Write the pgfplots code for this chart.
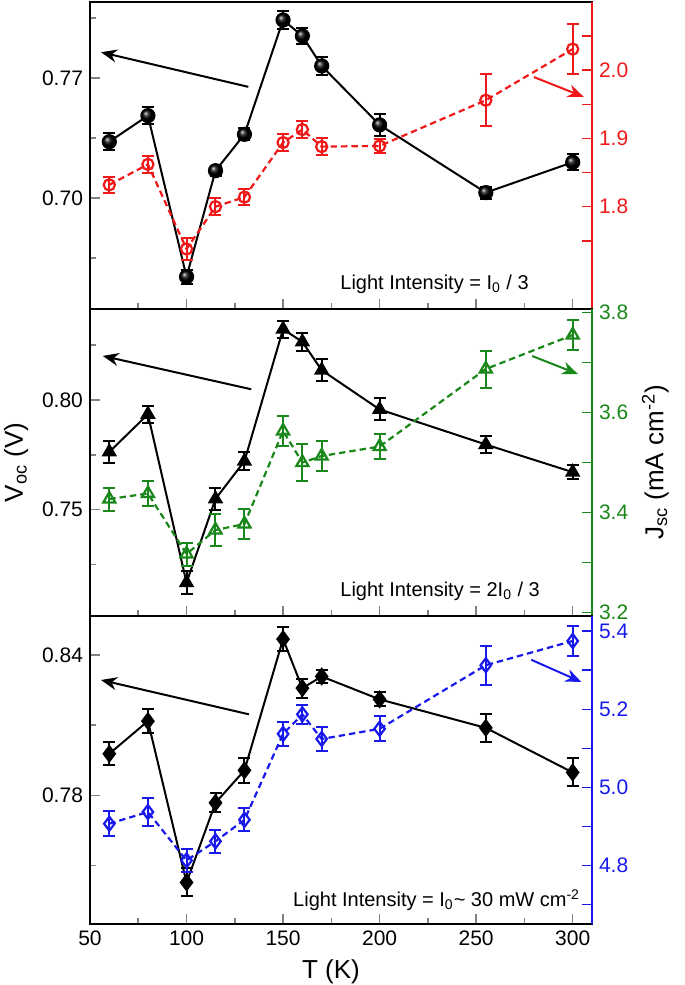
\documentclass[border=0pt]{standalone}
\usepackage{fontspec}
\setmainfont{Liberation Sans}
\usepackage{pgfplots}
\pgfplotsset{compat=1.18}
\usetikzlibrary{arrows.meta}

\definecolor{jred}{RGB}{240,25,25}
\definecolor{jgreen}{RGB}{25,135,25}
\definecolor{jblue}{RGB}{25,25,235}

\tikzset{
  txt/.style={font=\fontsize{10}{12}\selectfont, anchor=base west, inner sep=0pt},
  arr/.style={-{Stealth[length=8pt,width=6.5pt]}, line width=1pt},
}

\pgfplotsset{
  base/.style={
    scale only axis, width=251pt,
    xmin=50, xmax=310,
    tick align=inside,
    major tick length=5pt, minor tick length=3pt,
    axis line style={line width=0.8pt},
    every tick/.append style={line width=0.8pt},
    tick label style={font=\fontsize{10.5}{12}\selectfont},
    label style={font=\fontsize{13}{15}\selectfont},
    /pgf/number format/assume math mode=true,
  },
  lpanel/.style={
    base,
    xtick={50,100,...,300}, minor xtick={75,125,...,275},
    xtick pos=left, ytick pos=left,
    yticklabel style={/pgf/number format/.cd, fixed, fixed zerofill, precision=2},
  },
  rpanel/.style={
    base,
    axis x line=none, axis y line*=right,
    y axis line style={#1, line width=0.8pt},
    every tick/.append style={#1},
    yticklabel style={#1, /pgf/number format/.cd, fixed, fixed zerofill, precision=1},
    minor tick length=5pt,
  },
  ebars/.style={
    error bars/y dir=both, error bars/y explicit,
    error bars/error bar style={line width=1pt, solid},
    error bars/error mark options={rotate=90, line width=1pt, mark size=3pt, solid},
  },
  blk/.style={black, line width=1pt, mark size=3.3pt, ebars},
  col/.style={
    #1, line width=1.1pt, dash pattern=on 3.2pt off 2pt, mark size=2.8pt,
    mark options={solid, fill=white}, ebars,
  },
}

\begin{document}
\begin{tikzpicture}
% ---------- panel 1 : I0/3 ----------
\begin{axis}[lpanel, name=p1, height=153.5pt, at={(0,0)}, anchor=north west,
  ymin=0.6352, ymax=0.8143, ytick={0.70,0.77}, minor ytick={0.665,0.735,0.805},
  xticklabels={}]
\addplot[blk, mark=ball, mark options={ball color=black}] table[y error=e] {
x y e
60 0.7328 0.0050
80 0.7480 0.0048
100 0.6540 0.0040
115 0.7159 0.0030
130 0.7371 0.0035
150 0.8038 0.0053
160 0.7945 0.0047
170 0.7770 0.0053
200 0.7426 0.0064
255 0.7031 0.0035
300 0.7208 0.0047
};
\draw[arr] (axis cs:132,0.7648) -- (axis cs:55.7,0.785);
\node[txt] at (rel axis cs:0.498,0.062) {Light Intensity = I\textsubscript{0} / 3};
\end{axis}
\begin{axis}[rpanel=jred, height=153.5pt, at={(0,0)}, anchor=north west,
  ymin=1.65, ymax=2.10, ytick={1.8,1.9,2.0}, minor ytick={1.75,1.85,1.95,2.05}]
\addplot[col=jred, mark=o] table[y error=e] {
x y e
60 1.832 0.012
80 1.862 0.013
100 1.738 0.016
115 1.800 0.012
130 1.814 0.012
150 1.894 0.012
160 1.913 0.013
170 1.888 0.012
200 1.889 0.010
255 1.956 0.038
300 2.031 0.037
};
\draw[arr, jred] (axis cs:279.9,1.990) -- (axis cs:305.7,1.961);
\end{axis}

% ---------- panel 2 : 2I0/3 ----------
\begin{axis}[lpanel, name=p2, height=153.5pt, at={(0,-153.5pt)}, anchor=north west,
  ymin=0.7015, ymax=0.8415, ytick={0.75,0.80}, minor ytick={0.725,0.775,0.825},
  xticklabels={}, ylabel={V\textsubscript{oc} (V)}]
\addplot[blk, mark=triangle*, mark size=3.5pt] table[y error=e] {
x y e
60 0.7763 0.0050
80 0.7935 0.0038
100 0.7167 0.0053
115 0.7549 0.0050
130 0.7721 0.0040
150 0.8323 0.0038
160 0.8265 0.0040
170 0.8136 0.0050
200 0.7957 0.0050
255 0.7797 0.0040
300 0.7671 0.0033
};
\draw[arr] (axis cs:133.5,0.8049) -- (axis cs:56.6,0.8201);
\node[txt] at (rel axis cs:0.498,0.063) {Light Intensity = 2I\textsubscript{0} / 3};
\end{axis}
\begin{axis}[rpanel=jgreen, height=153.5pt, at={(0,-153.5pt)}, anchor=north west,
  ymin=3.193, ymax=3.807, ytick={3.2,3.4,3.6,3.8}, minor ytick={3.3,3.5,3.7},
  ylabel={J\textsubscript{sc} (mA cm\textsuperscript{-2})}]
\addplot[col=jgreen, mark=triangle, mark size=3.5pt] table[y error=e] {
x y e
60 3.427 0.023
80 3.438 0.025
100 3.317 0.023
115 3.365 0.032
130 3.377 0.030
150 3.563 0.030
160 3.500 0.037
170 3.513 0.030
200 3.532 0.025
255 3.687 0.037
300 3.755 0.030
};
\draw[arr, jgreen] (axis cs:279,3.713) -- (axis cs:302.7,3.677);
\end{axis}

% ---------- panel 3 : I0 ----------
\begin{axis}[lpanel, name=p3, height=154pt, at={(0,-307pt)}, anchor=north west,
  ymin=0.7249, ymax=0.8568, ytick={0.78,0.84}, minor ytick={0.75,0.81},
  xlabel={T (K)}, xlabel style={xshift=-5pt},
  xticklabel style={/pgf/number format/.cd, fixed}]
\addplot[blk, mark=diamond*, mark size=3.8pt] table[y error=e] {
x y e
60 0.7978 0.0050
80 0.8118 0.0050
100 0.7427 0.0060
115 0.7768 0.0040
130 0.7907 0.0052
150 0.8469 0.0050
160 0.8259 0.0040
170 0.8309 0.0027
200 0.8211 0.0030
255 0.8089 0.0060
300 0.7898 0.0060
};
\draw[arr] (axis cs:132.3,0.8147) -- (axis cs:55.7,0.8294);
\node[txt] at (rel axis cs:0.404,0.056) {Light Intensity = I\textsubscript{0}\textasciitilde{} 30 mW cm\textsuperscript{-2}};
\end{axis}
\begin{axis}[rpanel=jblue, height=154pt, at={(0,-307pt)}, anchor=north west,
  ymin=4.65, ymax=5.439, ytick={4.8,5.0,5.2,5.4}, minor ytick={4.7,4.9,5.1,5.3}]
\addplot[col=jblue, mark=diamond, mark size=3.5pt] table[y error=e] {
x y e
60 4.907 0.032
80 4.937 0.036
100 4.813 0.029
115 4.862 0.030
130 4.917 0.030
150 5.137 0.031
160 5.187 0.024
170 5.124 0.031
200 5.150 0.032
255 5.313 0.050
300 5.375 0.038
};
\draw[arr, jblue] (axis cs:278.5,5.327) -- (axis cs:304.5,5.270);
\end{axis}

\pgfresetboundingbox
\path[use as bounding box] (-45pt,1pt) rectangle (297.5pt,-491.5pt);
\end{tikzpicture}
\end{document}
